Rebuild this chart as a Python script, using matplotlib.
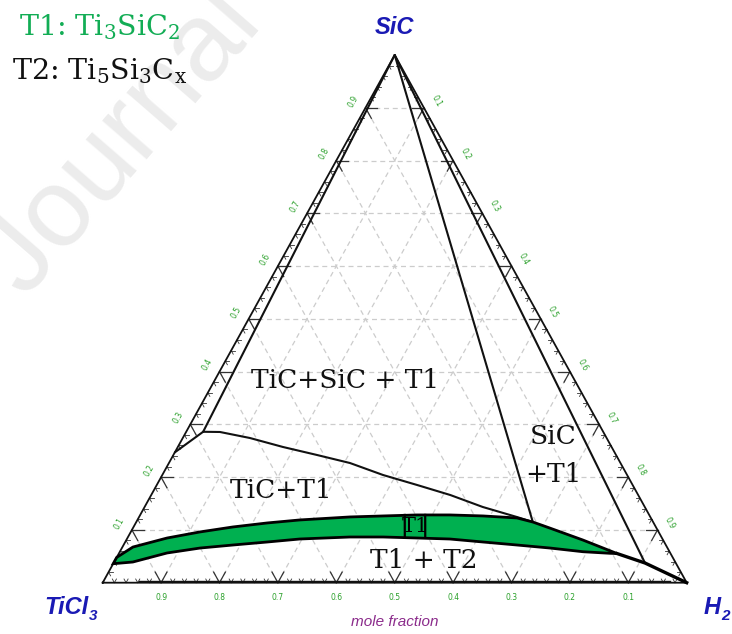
import numpy as np
import matplotlib
matplotlib.use('Agg')
import matplotlib.pyplot as plt

plt.rcParams['mathtext.fontset'] = 'dejavuserif'

# ---------------- data: compositions (SiC fraction, H2 fraction); TiCl3 = 1 - SiC - H2
tie_left_sic = [1.0, 0.286]
tie_left_h2 = [0.0, 0.029]
edge_seg_sic = [0.286, 0.247]
edge_seg_h2 = [0.029, 0.0]
curve_sic = [0.286, 0.2856, 0.2742, 0.2572, 0.2420, 0.2268, 0.2041, 0.1851,
             0.1662, 0.1435, 0.1245, 0.115]
curve_h2 = [0.029, 0.058, 0.115, 0.180, 0.246, 0.310, 0.378, 0.446,
            0.512, 0.579, 0.647, 0.679]
tie_t1_sic = [1.0, 0.115]
tie_t1_h2 = [0.0, 0.679]
tie_right_sic = [1.0, 0.0373]
tie_right_h2 = [0.0, 0.910]
band_top_sic = [0.048, 0.0676, 0.0847, 0.0961, 0.1056, 0.1132, 0.1189, 0.1246,
                0.1265, 0.1284, 0.1284, 0.1265, 0.1227, 0.115, 0.1035, 0.0808, 0.0553]
band_top_h2 = [0.0, 0.018, 0.068, 0.118, 0.170, 0.225, 0.278, 0.361,
               0.417, 0.474, 0.530, 0.588, 0.648, 0.679, 0.714, 0.782, 0.853]
band_bot_sic = [0.036, 0.0392, 0.0563, 0.0657, 0.0714, 0.0771, 0.0828, 0.0866,
                0.0866, 0.0847, 0.0828, 0.0771, 0.0714, 0.0657, 0.0587, 0.0557, 0.0553]
band_bot_h2 = [0.0, 0.032, 0.082, 0.134, 0.187, 0.243, 0.296, 0.380,
               0.437, 0.496, 0.553, 0.613, 0.674, 0.733, 0.793, 0.841, 0.853]
tail_sic = [0.0553, 0.0373, 0.0]
tail_h2 = [0.853, 0.910, 1.0]
base_line_sic = [0.004, 0.004]
base_line_h2 = [0.06, 0.97]
t1_mark_sic = [[0.1284, 0.0866], [0.1284, 0.0866]]
t1_mark_h2 = [[0.453, 0.474], [0.488, 0.509]]
tick_values = [0.1, 0.2, 0.3, 0.4, 0.5, 0.6, 0.7, 0.8, 0.9]
tick_labels = ['0.1', '0.2', '0.3', '0.4', '0.5', '0.6', '0.7', '0.8', '0.9']

# ---------------- layout
X0, Y0 = 102.7, 582.7   # TiCl3 corner (pixels)
W, H = 584.0, 527.7

def tp(s, h):
    s = np.asarray(s, float)
    h = np.asarray(h, float)
    return X0 + W * (h + s / 2), Y0 - H * s

fig = plt.figure(figsize=(7.32, 6.34), dpi=100)
ax = fig.add_axes([0, 0, 1, 1])
ax.set_xlim(0, 732)
ax.set_ylim(634, 0)
ax.axis('off')

# watermark
ax.text(24, 298, 'Journal', rotation=49, rotation_mode='anchor',
        ha='left', va='baseline', fontsize=80, color='#ececec',
        family='Liberation Sans', zorder=0, clip_on=True)

# grid
gkw = dict(color='#cccccc', lw=0.9, ls=(0, (4, 3)), zorder=1)
for t in tick_values:
    ax.plot(*tp([t, t], [0, 1 - t]), **gkw)
    ax.plot(*tp([0, 1 - t], [t, t]), **gkw)
    ax.plot(*tp([0, 1 - t], [1 - t, 0]), **gkw)

# ticks
for k in range(1, 50):
    t = k * 0.02
    major = (k % 5 == 0)
    d = 0.02 if major else 0.007
    tkw = dict(color='#333333', lw=0.9 if major else 0.6, zorder=3)
    # left edge (h=0, s=t)
    ax.plot(*tp([t, t], [0, d]), **tkw)
    ax.plot(*tp([t, t - d], [0, d]), **tkw)
    # bottom edge (s=0, h=t)
    ax.plot(*tp([0, d], [t, t]), **tkw)
    ax.plot(*tp([0, d], [t, t - d]), **tkw)
    # right edge (s=1-t, h=t)
    ax.plot(*tp([1 - t, 1 - t - d], [t, t]), **tkw)
    ax.plot(*tp([1 - t, 1 - t], [t, t - d]), **tkw)

# triangle
ax.plot(*tp([0, 0, 1, 0], [0, 1, 0, 0]), color='#111111', lw=1.3, zorder=4)

# tick labels
lab_kw = dict(fontsize=5.5, color='#2aa02a', ha='center', va='center', zorder=5)
nL = np.array([-0.875, -0.484])
nR = np.array([0.875, -0.484])
for t, lab in zip(tick_values, tick_labels):
    x, y = tp(t, 0)
    ax.text(x + 14 * nL[0], y + 14 * nL[1], lab, rotation=61, **lab_kw)
    x, y = tp(1 - t, t)
    ax.text(x + 14 * nR[0], y + 14 * nR[1], lab, rotation=-61, **lab_kw)
    x, y = tp(0, 1 - t)
    ax.text(x, y + 15, lab, **lab_kw)

# phase boundaries
bkw = dict(color='#111111', lw=1.5, zorder=6, solid_capstyle='round')
ax.plot(*tp(tie_left_sic, tie_left_h2), **bkw)
ax.plot(*tp(edge_seg_sic, edge_seg_h2), **bkw)
ax.plot(*tp(curve_sic, curve_h2), **bkw)
ax.plot(*tp(tie_t1_sic, tie_t1_h2), **bkw)
ax.plot(*tp(tie_right_sic, tie_right_h2), **bkw)
ax.plot(*tp(base_line_sic, base_line_h2), color='#111111', lw=1.0, zorder=6)

# T1 band
bx_t, by_t = tp(band_top_sic, band_top_h2)
bx_b, by_b = tp(band_bot_sic, band_bot_h2)
px = np.concatenate([bx_t, bx_b[::-1]])
py = np.concatenate([by_t, by_b[::-1]])
ax.fill(px, py, facecolor='#00b050', edgecolor='#000000', lw=2.0, zorder=7)
ax.plot(*tp(tail_sic, tail_h2), color='#000000', lw=2.4, zorder=7)
for ms, mh in zip(t1_mark_sic, t1_mark_h2):
    ax.plot(*tp(ms, mh), color='#000000', lw=1.6, zorder=8)
ax.text(415, 526, 'T1', fontsize=15, family='DejaVu Serif', color='#000000',
        ha='center', va='center', zorder=8)

# region labels
rkw = dict(family='DejaVu Serif', fontsize=19, color='#111111', ha='center',
           va='center', zorder=9)
ax.text(345, 381, 'TiC+SiC + T1', **rkw)
ax.text(281, 491, 'TiC+T1', **rkw)
ax.text(553, 436, 'SiC', **rkw)
ax.text(553, 475, '+T1', **rkw)
ax.text(424, 560, 'T1 + T2', **rkw)

# legend-like text
ax.text(19, 36, r'T1: $\mathrm{Ti_3SiC_2}$', family='DejaVu Serif', fontsize=20.5,
        color='#12ad55', ha='left', va='baseline', zorder=9)
ax.text(12, 80, r'T2: $\mathrm{Ti_5Si_3C_x}$', family='DejaVu Serif', fontsize=20.5,
        color='#111111', ha='left', va='baseline', zorder=9)

# vertex labels
vkw = dict(family='Liberation Sans', fontweight='bold', fontstyle='italic',
           color='#1a1ab4', zorder=9)
ax.text(394, 34, 'SiC', fontsize=17, ha='center', va='baseline', **vkw)
ax.text(89, 614, 'TiCl', fontsize=17, ha='right', va='baseline', **vkw)
ax.text(89, 620, '3', fontsize=11, ha='left', va='baseline', **vkw)
ax.text(721, 614, 'H', fontsize=17, ha='right', va='baseline', **vkw)
ax.text(721, 620, '2', fontsize=11, ha='left', va='baseline', **vkw)

ax.text(395, 622, 'mole fraction', family='Liberation Sans', fontsize=11,
        fontstyle='italic', color='#8b2b8b', ha='center', va='center', zorder=9)

fig.savefig('out.png', dpi=100)
